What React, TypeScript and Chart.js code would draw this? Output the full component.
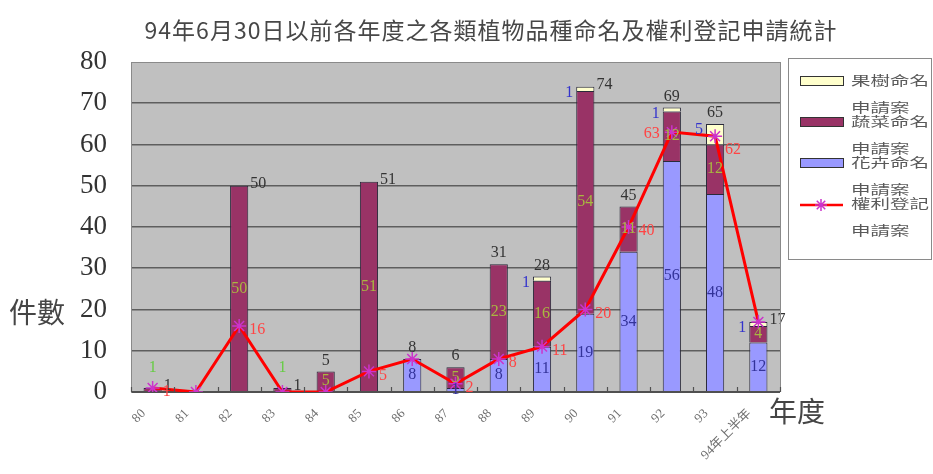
import React, { useEffect, useRef } from "react";
import { Chart, registerables } from "chart.js";

Chart.register(...registerables);

// 年度 categories
const years = ["80", "81", "82", "83", "84", "85", "86", "87", "88", "89", "90", "91", "92", "93", "94年上半年"];
// 花卉命名申請案
const flowerApps = [0, 0, 0, 0, 0, 0, 8, 1, 8, 11, 19, 34, 56, 48, 12];
// 蔬菜命名申請案
const vegetableApps = [1, 0, 50, 1, 5, 51, 0, 5, 23, 16, 54, 11, 12, 12, 4];
// 果樹命名申請案
const fruitApps = [0, 0, 0, 0, 0, 0, 0, 0, 0, 1, 1, 0, 1, 5, 1];
// 權利登記申請案
const rightsApps = [1, 0, 16, 0, 0, 5, 8, 2, 8, 11, 20, 40, 63, 62, 17];
const yTicks = [0, 10, 20, 30, 40, 50, 60, 70, 80];

// where the total label sits relative to each bar
const totalLabelSide = ["right", "top", "right", "right", "top", "right", "top", "top", "top", "top", "right", "top", "top", "top", "right"];
// where the 權利登記 value label sits relative to each point ("" = hidden)
const rightsLabelSide = ["right", "", "right", "", "", "right", "", "right", "right", "right", "right", "right", "left", "below", ""];

const TITLE = "94年6月30日以前各年度之各類植物品種命名及權利登記申請統計";
const CJK = '"Noto Sans CJK TC", "Noto Sans CJK SC", sans-serif';
const SERIF = '"Liberation Serif", "DejaVu Serif", "Noto Sans CJK TC", serif';

const legendItems = [
  { kind: "box", fill: "#ffffcc", lines: ["果樹命名", "申請案"] },
  { kind: "box", fill: "#993366", lines: ["蔬菜命名", "申請案"] },
  { kind: "box", fill: "#9999ff", lines: ["花卉命名", "申請案"] },
  { kind: "line", fill: "#ff0000", lines: ["權利登記", "申請案"] },
];

function drawStar(ctx: CanvasRenderingContext2D, x: number, y: number, r: number, color: string) {
  ctx.save();
  ctx.strokeStyle = color;
  ctx.lineWidth = 1.5;
  ctx.beginPath();
  for (let k = 0; k < 4; k++) {
    const a = (Math.PI / 4) * k;
    ctx.moveTo(x - Math.cos(a) * r, y - Math.sin(a) * r);
    ctx.lineTo(x + Math.cos(a) * r, y + Math.sin(a) * r);
  }
  ctx.stroke();
  ctx.restore();
}

const decorPlugin = {
  id: "decor",
  beforeDraw(chart: any) {
    const { ctx, chartArea: a } = chart;
    ctx.save();
    ctx.fillStyle = "#c0c0c0";
    ctx.fillRect(a.left, a.top, a.right - a.left, a.bottom - a.top);
    ctx.restore();
  },
  afterDraw(chart: any) {
    const { ctx, chartArea: a } = chart;
    ctx.save();
    // plot frame right edge
    ctx.strokeStyle = "#8a8a8a";
    ctx.lineWidth = 1;
    ctx.beginPath();
    ctx.moveTo(a.right + 0.5, a.top);
    ctx.lineTo(a.right + 0.5, a.bottom);
    ctx.stroke();
    // category boundary tick marks on the baseline
    const n = years.length;
    const cw = (a.right - a.left) / n;
    ctx.strokeStyle = "#505050";
    ctx.lineWidth = 1.2;
    for (let i = 0; i <= n; i++) {
      const x = Math.round(a.left + i * cw) + 0.5;
      ctx.beginPath();
      ctx.moveTo(x, a.bottom);
      ctx.lineTo(x, a.bottom - 5);
      ctx.stroke();
    }

    // title
    ctx.fillStyle = "#474747";
    ctx.font = `23px ${CJK}`;
    ctx.textAlign = "center";
    ctx.textBaseline = "middle";
    (ctx as any).letterSpacing = "1px";
    ctx.fillText(TITLE, 491, 30);
    (ctx as any).letterSpacing = "0px";

    // axis titles
    ctx.font = `28px ${CJK}`;
    ctx.fillStyle = "#454545";
    ctx.textAlign = "left";
    ctx.fillText("件數", 9, 312);
    ctx.fillText("年度", 769, 411);

    // legend
    ctx.fillStyle = "#ffffff";
    ctx.fillRect(788, 58, 143, 201);
    ctx.strokeStyle = "#8a8a8a";
    ctx.lineWidth = 1;
    ctx.strokeRect(788.5, 58.5, 143, 201);
    legendItems.forEach((it, i) => {
      const y = 80 + i * 41;
      if (it.kind === "box") {
        ctx.fillStyle = it.fill;
        ctx.fillRect(800, y - 4, 43, 9);
        ctx.strokeStyle = "#333";
        ctx.strokeRect(800.5, y - 3.5, 43, 9);
      } else {
        ctx.strokeStyle = it.fill;
        ctx.lineWidth = 2.5;
        ctx.beginPath();
        ctx.moveTo(800, y + 2);
        ctx.lineTo(843, y + 2);
        ctx.stroke();
        drawStar(ctx, 821, y + 2, 6, "#cc33cc");
        ctx.lineWidth = 1;
      }
      ctx.fillStyle = "#5a5a5a";
      ctx.font = `13px ${CJK}`;
      ctx.textAlign = "left";
      it.lines.forEach((t, k) => {
        ctx.save();
        ctx.translate(851, y + k * 27);
        ctx.scale(1.5, 1);
        ctx.fillText(t, 0, 0);
        ctx.restore();
      });
    });
    ctx.restore();
  },
  afterDatasetsDraw(chart: any) {
    const { ctx } = chart;
    const fl = chart.getDatasetMeta(0).data;
    const vg = chart.getDatasetMeta(1).data;
    const fr = chart.getDatasetMeta(2).data;
    const ln = chart.getDatasetMeta(3).data;
    ctx.save();
    ctx.font = `16px ${SERIF}`;
    ctx.textBaseline = "middle";
    years.forEach((_, i) => {
      // 花卉 value inside its segment
      if (flowerApps[i] > 0) {
        const b = fl[i];
        ctx.fillStyle = "#333399";
        ctx.textAlign = "center";
        ctx.fillText(String(flowerApps[i]), b.x, (b.y + b.base) / 2);
      }
      // 蔬菜 value inside its segment, or above it when the segment is tiny
      if (vegetableApps[i] > 0) {
        const b = vg[i];
        const h = b.base - b.y;
        ctx.fillStyle = h < 10 ? "#66cc44" : "#a8b840";
        ctx.textAlign = "center";
        ctx.fillText(String(vegetableApps[i]), b.x, h < 10 ? b.y - 20 : (b.y + b.base) / 2);
      }
      // 果樹 value to the left of the top segment
      if (fruitApps[i] > 0) {
        const b = fr[i];
        ctx.fillStyle = "#3333cc";
        ctx.textAlign = "right";
        ctx.fillText(String(fruitApps[i]), b.x - b.width / 2 - 3, b.y + 6);
      }
      // stacked total
      const total = flowerApps[i] + vegetableApps[i] + fruitApps[i];
      if (total > 0) {
        const b = fr[i];
        ctx.fillStyle = "#333";
        if (totalLabelSide[i] === "right") {
          ctx.textAlign = "left";
          ctx.fillText(String(total), b.x + b.width / 2 + 2, b.y - 2);
        } else {
          ctx.textAlign = "center";
          ctx.fillText(String(total), b.x, b.y - 11);
        }
      }
      // 權利登記 value next to its point
      const side = rightsLabelSide[i];
      if (side && rightsApps[i] > 0) {
        const p = ln[i];
        ctx.fillStyle = "#ff4444";
        if (side === "left") {
          ctx.textAlign = "right";
          ctx.fillText(String(rightsApps[i]), p.x - 12, p.y + 2);
        } else if (side === "below") {
          ctx.textAlign = "left";
          ctx.fillText(String(rightsApps[i]), p.x + 10, p.y + 14);
        } else {
          ctx.textAlign = "left";
          ctx.fillText(String(rightsApps[i]), p.x + 10, p.y + 4);
        }
      }
    });
    ctx.restore();
  },
};

export default function App() {
  const ref = useRef<HTMLCanvasElement>(null);

  useEffect(() => {
    if (!ref.current) return;
    const barCommon = {
      type: "bar" as const,
      borderColor: "#2a2a3a",
      borderWidth: 1,
      barPercentage: 0.42,
      categoryPercentage: 1,
      stack: "apps",
      order: 1,
    };
    const chart = new Chart(ref.current, {
      type: "bar",
      data: {
        labels: years,
        datasets: [
          { ...barCommon, label: "花卉命名申請案", data: flowerApps, backgroundColor: "#9999ff" },
          { ...barCommon, label: "蔬菜命名申請案", data: vegetableApps, backgroundColor: "#993366" },
          { ...barCommon, label: "果樹命名申請案", data: fruitApps, backgroundColor: "#ffffcc" },
          {
            type: "line",
            label: "權利登記申請案",
            data: rightsApps,
            borderColor: "#ff0000",
            borderWidth: 3,
            tension: 0,
            pointStyle: "star",
            pointRadius: 7,
            pointBorderColor: "#cc33cc",
            pointBorderWidth: 1.5,
            pointBackgroundColor: "#cc33cc",
            stack: "rights",
            order: 0,
          } as any,
        ],
      },
      options: {
        animation: false,
        responsive: true,
        maintainAspectRatio: false,
        layout: { padding: { left: 0, top: 62, right: 153, bottom: 0 } },
        plugins: {
          legend: { display: false },
          title: { display: false },
          tooltip: { enabled: false },
        },
        scales: {
          x: {
            stacked: true,
            grid: { display: false },
            border: { display: false },
            ticks: {
              autoSkip: false,
              minRotation: 45,
              maxRotation: 45,
              padding: 6,
              labelOffset: -9,
              color: "#707070",
              font: { size: 13, family: SERIF },
            },
            afterFit(scale: any) {
              scale.height = 82;
            },
          },
          y: {
            stacked: true,
            min: 0,
            max: 80,
            afterBuildTicks(scale: any) {
              scale.ticks = yTicks.map((v) => ({ value: v }));
            },
            grid: {
              drawTicks: false,
              color: (c: any) => (c.tick && c.tick.value === 0 ? "#505050" : c.tick && c.tick.value === 80 ? "#8a8a8a" : "#5e5e5e"),
              lineWidth: (c: any) => (c.tick && c.tick.value === 0 ? 2 : c.tick && c.tick.value === 80 ? 1 : 1.6),
            },
            border: { display: true, color: "#8a8a8a", width: 1 },
            ticks: {
              padding: 24,
              color: "#333",
              font: { size: 27, family: SERIF },
            },
            afterFit(scale: any) {
              scale.width = 131;
            },
          },
        },
      },
      plugins: [decorPlugin],
    });
    return () => chart.destroy();
  }, []);

  return (
    <div style={{ position: "fixed", left: 0, top: 0, width: 933, height: 474, background: "#fff" }}>
      <canvas ref={ref} />
    </div>
  );
}
